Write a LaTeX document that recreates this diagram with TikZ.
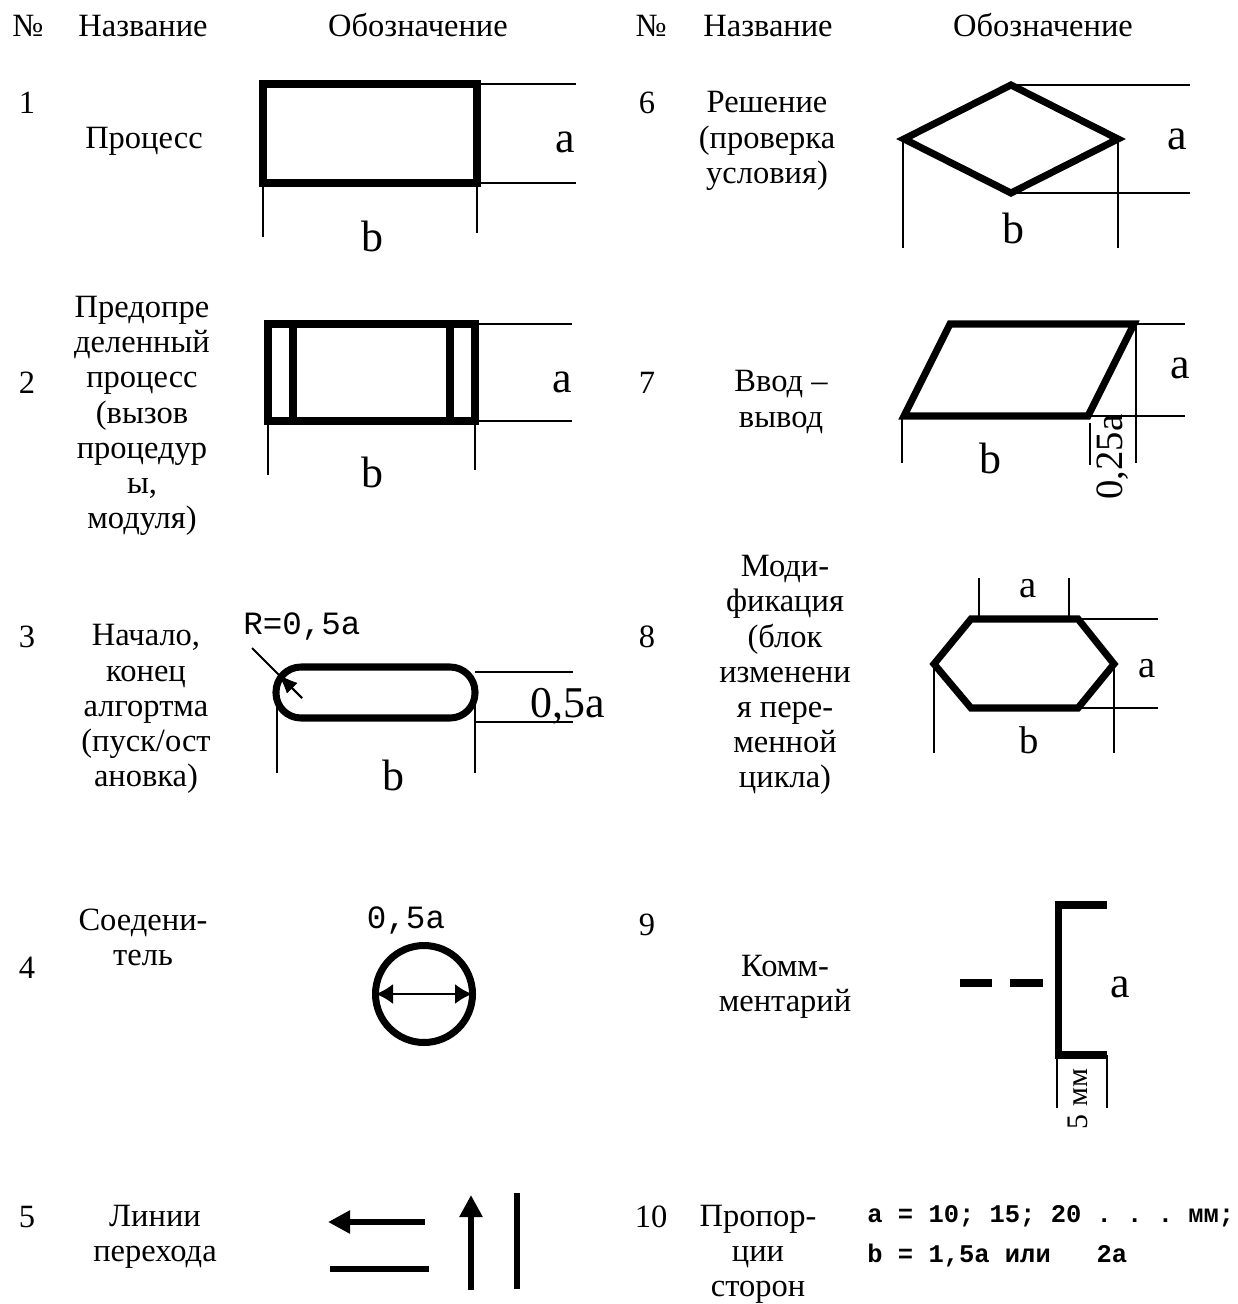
\documentclass[tikz,border=0pt]{standalone}
\usepackage{fontspec}
\setmainfont{Liberation Serif}
\setmonofont{Liberation Mono}
\usetikzlibrary{arrows.meta}

\begin{document}
\begin{tikzpicture}[
    x=0.02cm, y=-0.02cm,
    txt/.style={font=\fontsize{18.5}{20}\selectfont, align=center, inner sep=0pt},
    hdr/.style={txt, anchor=base},
    dimtxt/.style={font=\fontsize{25}{25}\selectfont, anchor=base, inner sep=0pt},
    smalldim/.style={font=\fontsize{22}{22}\selectfont, anchor=base, inner sep=0pt},
    monotxt/.style={font=\ttfamily\fontsize{18.5}{18.5}\selectfont, anchor=base, inner sep=0pt},
    boldmono/.style={font=\ttfamily\bfseries\fontsize{14.5}{14.5}\selectfont, anchor=base west, inner sep=0pt},
    fig/.style={line width=4pt},
    dim/.style={line width=1.1pt},
    flow/.style={line width=3.4pt},
    flowarr/.style={flow, -{Triangle[length=0.44cm, width=0.44cm]}}
]
\useasboundingbox (0,0) rectangle (1237,1304);

% headers
\node[hdr] (hdrNoL) at (28,37) {№};
\node[hdr] (hdrNameL) at (143,37) {Название};
\node[hdr] (hdrSymL) at (418,37) {Обозначение};
\node[hdr] (hdrNoR) at (651,37) {№};
\node[hdr] (hdrNameR) at (768,37) {Название};
\node[hdr] (hdrSymR) at (1043,37) {Обозначение};

% numbers
\node[txt] (num1) at (27,103) {1};
\node[txt] (num2) at (27,383) {2};
\node[txt] (num3) at (27,637) {3};
\node[txt] (num4) at (27,968) {4};
\node[txt] (num5) at (27,1217) {5};
\node[txt] (num6) at (647,103) {6};
\node[txt] (num7) at (647,383) {7};
\node[txt] (num8) at (647,637) {8};
\node[txt] (num9) at (647,925) {9};
\node[txt] (num10) at (651,1217) {10};

% names
\node[txt] (name1) at (144,141) {Процесс};
\node[txt] (name2) at (142,416) {Предопре\\деленный\\процесс\\(вызов\\процедур\\ы,\\модуля)};
\node[txt] (name3) at (146,709) {Начало,\\конец\\алгортма\\(пуск/ост\\ановка)};
\node[txt] (name4) at (143,937) {Соедени-\\тель};
\node[txt] (name5) at (155,1237) {Линии\\перехода};
\node[txt] (name6) at (767,141) {Решение\\(проверка\\условия)};
\node[txt] (name7) at (781,402) {Ввод –\\вывод};
\node[txt] (name8) at (785,675) {Моди-\\фикация\\(блок\\изменени\\я пере-\\менной\\цикла)};
\node[txt] (name9) at (785,987) {Комм-\\ментарий};
\node[txt] (name10) at (758,1254) {Пропор-\\ции\\сторон};

% 1: process
\draw[fig] (263,84) rectangle (477,183);
\draw[dim] (477,84) -- (576,84) (477,183) -- (576,183);
\draw[dim] (263,183) -- (263,237) (477,183) -- (477,233);
\node[dimtxt] (a1) at (565,153) {a};
\node[dimtxt] (b1) at (372,252) {b};

% 2: predefined process
\draw[fig] (268,324) rectangle (475,421);
\draw[fig] (293,324) -- (293,421) (450,324) -- (450,421);
\draw[dim] (475,324) -- (572,324) (475,421) -- (572,421);
\draw[dim] (268,421) -- (268,475) (475,421) -- (475,470);
\node[dimtxt] (a2) at (562,392) {a};
\node[dimtxt] (b2) at (372,487) {b};

% 3: terminal
\draw[fig, rounded corners=0.5cm] (276,667) rectangle (475,718);
\draw[dim] (475,672) -- (573,672) (475,722) -- (573,722);
\draw[dim] (277,697) -- (277,773) (475,700) -- (475,773);
\node[dimtxt] (h3) at (568,717) {0,5a};
\node[dimtxt] (b3) at (393,790) {b};
\node[monotxt] (r3) at (302,634) {R=0,5a};
\draw[dim] (252,648) -- (302,698);
\draw[dim, -{Latex[length=0.4cm, width=0.3cm]}] (302,698) -- (278,674);

% 4: connector
\draw[fig] (424,994) circle[radius=0.97cm];
\draw[dim, {Latex[length=0.34cm, width=0.4cm]}-{Latex[length=0.34cm, width=0.4cm]}] (376,994) -- (472,994);
\node[monotxt] (d4) at (406,928) {0,5a};

% 5: flow lines
\draw[flowarr] (425,1222) -- (328,1222);
\draw[flow] (330,1269) -- (429,1269);
\draw[flowarr] (471,1290) -- (471,1195);
\draw[flow] (517,1193) -- (517,1289);

% 6: decision
\draw[fig] (904,139) -- (1011,85) -- (1118,139) -- (1011,193) -- cycle;
\draw[dim] (1011,85) -- (1190,85) (1011,193) -- (1190,193);
\draw[dim] (903,139) -- (903,248) (1118,139) -- (1118,248);
\node[dimtxt] (a6) at (1177,150) {a};
\node[dimtxt] (b6) at (1013,243) {b};

% 7: input / output
\draw[fig] (904,416) -- (950,324) -- (1134,324) -- (1088,416) -- cycle;
\draw[dim] (1134,324) -- (1185,324) (1088,416) -- (1185,416);
\draw[dim] (1136,324) -- (1136,463) (1090,423) -- (1090,465) (902,416) -- (902,463);
\node[dimtxt] (a7) at (1180,378) {a};
\node[dimtxt] (b7) at (990,473) {b};
\node[smalldim, anchor=center, rotate=90] (s7) at (1113,457) {0,25a};

% 8: modification
\draw[fig] (934,664) -- (971,619) -- (1078,619) -- (1114,664) -- (1078,708) -- (971,708) -- cycle;
\draw[dim] (979,578) -- (979,619) (1069,578) -- (1069,619);
\draw[dim] (1078,619) -- (1158,619) (1078,708) -- (1158,708);
\draw[dim] (934,664) -- (934,753) (1114,664) -- (1114,753);
\node[smalldim] (at8) at (1028,597) {a};
\node[smalldim] (ar8) at (1147,677) {a};
\node[smalldim] (b8) at (1029,753) {b};

% 9: comment
\draw[fig] (1107,905) -- (1058,905) -- (1058,1055) -- (1107,1055);
\draw[fig] (960,983) -- (992,983) (1010,983) -- (1043,983);
\draw[dim] (1057,1055) -- (1057,1108) (1107,1055) -- (1107,1108);
\node[dimtxt] (a9) at (1120,997) {a};
\node[font=\fontsize{17}{17}\selectfont, inner sep=0pt, rotate=90] (s9) at (1078,1099) {5 мм};

% 10: proportions
\node[boldmono] (p1) at (867,1222) {a~=~10;~15;~20~.~.~.~мм;};
\node[boldmono] (p2) at (867,1262) {b~=~1,5a~или~~~2a};

\end{tikzpicture}
\end{document}
